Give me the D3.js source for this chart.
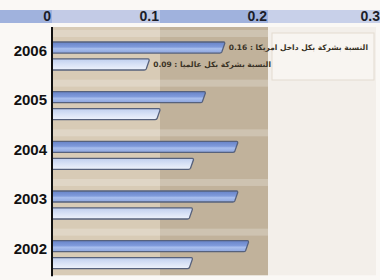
<!DOCTYPE html>
<html>
<head>
<meta charset="utf-8">
<script src="https://cdnjs.cloudflare.com/ajax/libs/d3/7.8.5/d3.min.js"></script>
<style>
  body { margin: 0; background: #faf8f5; }
  svg { display: block; }
</style>
</head>
<body>
<div id="chart"></div>
<script>
const years = ['2006', '2005', '2004', '2003', '2002'];
const series = ['us', 'world'];
const usShare = [0.16, 0.142, 0.172, 0.172, 0.182];
const worldShare = [0.09, 0.10, 0.131, 0.13, 0.13];
const ticks = [0, 0.1, 0.2, 0.3];
const labelNames = ['النسبة بشركة بكل داخل امريكا', 'النسبة بشركة بكل عالميا'];

const width = 380,
  height = 280;
const margin = { top: 27, right: 4, bottom: 5, left: 52 };

const x = d3.scaleLinear().domain([0, 0.3]).range([margin.left, width - margin.right]);
const y = d3.scaleBand().domain(years).range([margin.top, height - margin.bottom + 0.3]);
const inner = d3.scaleBand().domain(series).range([15, 43]).paddingInner(0.35);

const svg = d3
  .select('#chart')
  .append('svg')
  .attr('width', width)
  .attr('height', height);

const defs = svg.append('defs');
function grad(id, stops) {
  const g = defs.append('linearGradient').attr('id', id)
    .attr('x1', 0).attr('y1', 0).attr('x2', 0).attr('y2', 1);
  stops.forEach(s => g.append('stop').attr('offset', s[0]).attr('stop-color', s[1]));
}
grad('gUs', [[0, '#6783c8'], [0.45, '#809bdb'], [0.6, '#a9bfee'], [1, '#8ca4dc']]);
grad('gWorld', [[0, '#c0cfee'], [0.5, '#d8e2f6'], [1, '#eef2fb']]);

// top axis band
const bandColors = ['#c3cbe6', '#a0b2dd', '#c8d0e9'];
svg.append('rect').attr('x', 0).attr('y', 10).attr('width', margin.left).attr('height', 13).attr('fill', '#a0b2dd');
svg.append('g')
  .selectAll('rect')
  .data(ticks.slice(0, -1))
  .join('rect')
  .attr('x', d => x(d))
  .attr('y', 10)
  .attr('width', d => x(d + 0.1) - x(d) + (d === 0.2 ? 10 : 0))
  .attr('height', 13)
  .attr('fill', (d, i) => bandColors[i]);

// plot background columns
const colColors = ['#d8cbb6', '#c1b29b', '#f3efea'];
svg.append('g')
  .selectAll('rect')
  .data(ticks.slice(0, -1))
  .join('rect')
  .attr('x', d => x(d))
  .attr('y', margin.top)
  .attr('width', d => x(d + 0.1) - x(d))
  .attr('height', y.range()[1] - margin.top)
  .attr('fill', (d, i) => colColors[i]);

// faint row strips
svg.append('g')
  .selectAll('rect')
  .data(years)
  .join('rect')
  .attr('x', x(0))
  .attr('y', d => y(d) + 3)
  .attr('width', x(0.2) - x(0))
  .attr('height', 7)
  .attr('fill', '#fff')
  .attr('opacity', 0.22);

// legend-ish box at right
svg.append('rect')
  .attr('x', x(0.2) + 4).attr('y', 33)
  .attr('width', x(0.3) - x(0.2) - 6).attr('height', 47)
  .attr('fill', '#f8f5f1').attr('stroke', '#e3dbd0').attr('stroke-width', 1);

// tick labels
svg.append('g')
  .selectAll('text')
  .data(ticks)
  .join('text')
  .attr('x', d => x(d) - 1 + (d === 0.3 ? 5 : 0))
  .attr('y', 21)
  .attr('text-anchor', 'end')
  .attr('font-family', 'Liberation Sans, Arial, sans-serif')
  .attr('font-weight', 'bold')
  .attr('font-size', 14)
  .attr('fill', '#1b1d2a')
  .text(d => d3.format('.1~f')(d));

// bars
function barPath(x0, x1, y0, h) {
  const s = 3;
  return 'M' + x0 + ',' + y0 +
    'H' + (x1 - 1) +
    'Q' + x1 + ',' + y0 + ' ' + x1 + ',' + (y0 + 1.5) +
    'L' + (x1 - s) + ',' + (y0 + h - 1) +
    'Q' + (x1 - s - 0.5) + ',' + (y0 + h) + ' ' + (x1 - s - 2) + ',' + (y0 + h) +
    'H' + x0 + 'Z';
}

const rows = years.map((yr, i) => ({ yr, us: usShare[i], world: worldShare[i] }));

const g = svg.append('g');
rows.forEach(r => {
  series.forEach(s => {
    g.append('path')
      .attr('d', barPath(x(0), x(r[s]), y(r.yr) + inner(s), inner.bandwidth()))
      .attr('fill', s === 'us' ? 'url(#gUs)' : 'url(#gWorld)')
      .attr('stroke', '#56617c')
      .attr('stroke-width', 1.3);
  });
});

// value labels for 2006
const first = rows[0];
series.forEach((s, i) => {
  svg.append('text')
    .attr('x', x(first[s]) + 4)
    .attr('y', y(first.yr) + inner(s) + inner.bandwidth() / 2 + 2.5)
    .attr('font-family', 'DejaVu Sans, sans-serif')
    .attr('font-size', 7.5)
    .attr('font-weight', 'bold')
    .attr('fill', '#3a3326')
    .text(d3.format('.2f')(first[s]) + ' : ' + labelNames[i]);
});

// axis line
svg.append('line')
  .attr('x1', x(0)).attr('x2', x(0))
  .attr('y1', margin.top).attr('y2', y.range()[1] + 1)
  .attr('stroke', '#111').attr('stroke-width', 2);

// year labels
svg.append('g')
  .selectAll('text')
  .data(years)
  .join('text')
  .attr('x', x(0) - 5)
  .attr('y', d => y(d) + 28.5)
  .attr('text-anchor', 'end')
  .attr('font-family', 'Liberation Sans, Arial, sans-serif')
  .attr('font-weight', 'bold')
  .attr('font-size', 15)
  .attr('fill', '#111')
  .text(d => d);
</script>
</body>
</html>
